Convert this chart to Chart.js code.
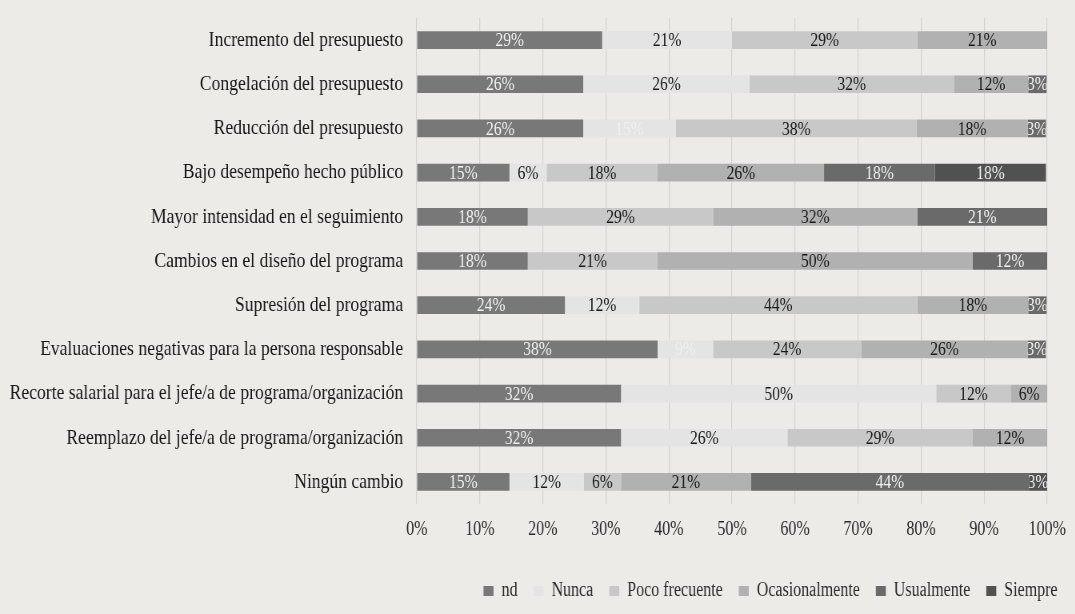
<!DOCTYPE html>
<html>
<head>
<meta charset="utf-8">
<script src="https://cdn.jsdelivr.net/npm/chart.js@4/dist/chart.umd.min.js"></script>
<style>
    html, body { margin: 0; padding: 0; background: #ecebe8; overflow: hidden; }
    /* the source picture is squeezed horizontally, so draw wide and scale down */
    #wrap { width: 1344px; height: 614px; transform: scaleX(0.8); transform-origin: 0 0; }
</style>
</head>
<body>
<div id="wrap"><canvas id="resp-chart"></canvas></div>
<script>
// Categories (top to bottom)
const categories = [
    'Incremento del presupuesto',
    'Congelación del presupuesto',
    'Reducción del presupuesto',
    'Bajo desempeño hecho público',
    'Mayor intensidad en el seguimiento',
    'Cambios en el diseño del programa',
    'Supresión del programa',
    'Evaluaciones negativas para la persona responsable',
    'Recorte salarial para el jefe/a de programa/organización',
    'Reemplazo del jefe/a de programa/organización',
    'Ningún cambio'
];

// Share of answers per category (%)
const nd             = [29.4, 26.4, 26.4, 14.7, 17.6, 17.6, 23.5, 38.2, 32.4, 32.4, 14.7];
const nunca          = [20.6, 26.4, 14.7,  5.9,  0,    0,   11.8,  8.8, 50.0, 26.4, 11.8];
const pocoFrecuente  = [29.4, 32.4, 38.2, 17.6, 29.4, 20.6, 44.1, 23.5, 11.8, 29.4,  5.9];
const ocasionalmente = [20.6, 11.8, 17.6, 26.4, 32.4, 50.0, 17.6, 26.4,  5.9, 11.8, 20.6];
const usualmente     = [ 0,    2.9,  2.9, 17.6, 20.6, 11.8,  2.9,  2.9,  0,    0,   44.1];
const siempre        = [ 0,    0,    0,   17.6,  0,    0,    0,    0,    0,    0,    2.9];

const xTicks = [0, 10, 20, 30, 40, 50, 60, 70, 80, 90, 100];

const serif = '"Liberation Serif", "Times New Roman", serif';

// Draw the % labels inside each segment (clipped to the segment)
const barLabels = {
    id: 'barLabels',
    beforeDraw(chart) {
        // a little slack so the right-aligned legend row doesn't wrap on rounding
        if (chart.legend && chart.legend.lineWidths) chart.legend.lineWidths[0] += 2;
    },
    afterDatasetsDraw(chart) {
        const ctx = chart.ctx;
        chart.data.datasets.forEach((ds, i) => {
            const meta = chart.getDatasetMeta(i);
            meta.data.forEach((bar, j) => {
                const v = ds.data[j];
                if (!v) return;
                const left = Math.min(bar.base, bar.x);
                const right = Math.max(bar.base, bar.x);
                const top = bar.y - bar.height / 2;
                ctx.save();
                ctx.beginPath();
                ctx.rect(left, top, right - left, bar.height);
                ctx.clip();
                ctx.fillStyle = Array.isArray(ds.labelColor) ? ds.labelColor[j] : ds.labelColor;
                ctx.font = '19.5px ' + serif;
                ctx.textAlign = 'center';
                ctx.textBaseline = 'middle';
                ctx.fillText(Math.round(v) + '%', (left + right) / 2, bar.y + 1);
                ctx.restore();
            });
        });
    }
};

const dark = '#181818';
const light = '#f2f2f2';

new Chart(document.getElementById('resp-chart'), {
    type: 'bar',
    data: {
        labels: categories,
        datasets: [
            { label: 'nd', data: nd, backgroundColor: '#787878', labelColor: light },
            { label: 'Nunca', data: nunca, backgroundColor: '#e4e4e4',
              labelColor: [dark, dark, '#f0f0f0', dark, dark, dark, dark, '#f0f0f0', dark, dark, dark] },
            { label: 'Poco frecuente', data: pocoFrecuente, backgroundColor: '#c8c8c8', labelColor: dark },
            { label: 'Ocasionalmente', data: ocasionalmente, backgroundColor: '#b1b1b1', labelColor: dark },
            { label: 'Usualmente', data: usualmente, backgroundColor: '#6a6a6a', labelColor: light },
            { label: 'Siempre', data: siempre, backgroundColor: '#515151', labelColor: light }
        ]
    },
    options: {
        indexAxis: 'y',
        responsive: true,
        maintainAspectRatio: false,
        animation: false,
        datasets: {
            bar: { barPercentage: 0.4, categoryPercentage: 1, borderWidth: 0 }
        },
        layout: { padding: { top: 18, right: 0, bottom: 3, left: 0 } },
        scales: {
            x: {
                stacked: true,
                min: 0,
                max: 100,
                afterBuildTicks: (scale) => { scale.ticks = xTicks.map(v => ({ value: v })); },
                ticks: {
                    callback: (v) => v + '%',
                    color: '#2a2a2a',
                    padding: 14,
                    font: { family: serif, size: 20 }
                },
                grid: { color: '#d3d3d3', lineWidth: 1.2, drawTicks: false },
                border: { display: false },
                afterFit: (scale) => { scale.height = 57; scale.paddingRight = 35; }
            },
            y: {
                stacked: true,
                ticks: {
                    color: '#151515',
                    padding: 17,
                    font: { family: serif, size: 22 }
                },
                grid: { display: false, drawTicks: false },
                border: { display: false },
                afterFit: (scale) => { scale.width = 521; scale.paddingTop = 0; scale.paddingBottom = 0; }
            }
        },
        plugins: {
            legend: {
                position: 'bottom',
                align: 'end',
                labels: {
                    boxWidth: 12.5,
                    boxHeight: 10,
                    padding: 20,
                    color: '#2a2a2a',
                    font: { family: serif, size: 20 }
                }
            },
            tooltip: { enabled: false }
        }
    },
    plugins: [barLabels]
});
</script>
</body>
</html>
